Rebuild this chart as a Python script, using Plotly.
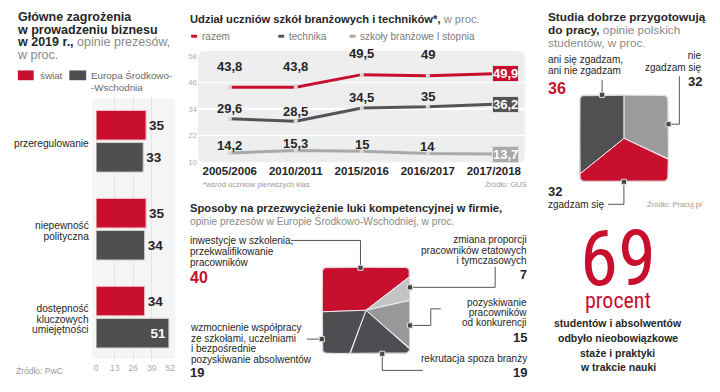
import numpy as np
import plotly.graph_objects as go

W, H = 720, 392
FONT = "Liberation Sans, Arial, sans-serif"
NARROW = "Roboto Condensed, Liberation Sans Narrow, DejaVu Sans Condensed, sans-serif"
RED = "#c8102e"
INK = "#262626"
GREY_TXT = "#8a8a8a"
DARK = "#4e4e52"
MID = "#98989a"
LIGHT = "#c4c4c6"

# ---------------- data ----------------
threat_categories = ["przeregulowanie", "niepewność\npolityczna", "dostępność\nkluczowych\numiejętności"]
threat_world = [35, 35, 34]
threat_cee = [33, 34, 51]
threat_ticks = [0, 13, 26, 39, 52]

years = ["2005/2006", "2010/2011", "2015/2016", "2016/2017", "2017/2018"]
share_total = [43.8, 43.8, 49.5, 49, 49.9]
share_technical = [29.6, 28.5, 34.5, 35, 36.2]
share_vocational = [14.2, 15.3, 15, 14, 13.7]
share_ticks = [10, 22, 34, 46, 58]

gap_labels = ["inwestycje w szkolenia,\nprzekwalifikowanie\npracowników",
              "zmiana proporcji\npracowników etatowych\ni tymczasowych",
              "pozyskiwanie\npracowników\nod konkurencji",
              "rekrutacja spoza branży",
              "wzmocnienie współpracy\nze szkołami, uczelniami\ni bezpośrednie\npozyskiwanie absolwentów"]
gap_values = [40, 7, 15, 19, 19]

study_labels = ["nie\nzgadzam się", "zgadzam się", "ani się zgadzam,\nani nie zgadzam"]
study_values = [32, 32, 36]

internship_share = 69

# ---------------- helpers ----------------
def px(x):
    return x / W

def py(y):
    return 1 - y / H

annotations = []
shapes = []

def label(x, y, text, size=10, color=INK, anchor="left", family=FONT, **kw):
    annotations.append(dict(x=px(x), y=py(y), xref="paper", yref="paper", text=text,
                            showarrow=False, xanchor=anchor, yanchor="middle", align=anchor,
                            borderpad=0, font=dict(size=size, color=color, family=family), **kw))

def block(x, y_first, spacing, lines, size, color=INK, anchor="left", family=FONT, sizes=None):
    """Several lines in one text, with a tight line pitch (base size = pitch / 1.3)."""
    sizes = sizes or [size] * len(lines)
    text = "<br>".join(f"<span style='font-size:{s}px'>{ln}</span>" for ln, s in zip(lines, sizes))
    yc = y_first + spacing * (len(lines) - 1) / 2
    annotations.append(dict(x=px(x), y=py(yc), xref="paper", yref="paper", text=text,
                            showarrow=False, xanchor=anchor, yanchor="middle", align=anchor,
                            borderpad=0, font=dict(size=spacing / 1.3, color=color, family=family)))

def fmt(v):
    return f"{v:g}".replace(".", ",")

def seg(x0, y0, x1, y1, color="#555", width=1):
    shapes.append(dict(type="line", xref="paper", yref="paper", x0=px(x0), y0=py(y0),
                       x1=px(x1), y1=py(y1), line=dict(color=color, width=width)))

def dot(x, y, s=2.6):
    shapes.append(dict(type="rect", xref="paper", yref="paper", x0=px(x - s), x1=px(x + s),
                       y0=py(y - s), y1=py(y + s), fillcolor="#454545",
                       line=dict(color="#dddddd", width=1), layer="above"))

def rounded_rect(x0, y0, x1, y1, r, fill, layer="below", line=None):
    X0, X1, Y0, Y1 = px(x0), px(x1), py(y1), py(y0)
    rx, ry = r / W, r / H
    path = (f"M {X0+rx},{Y0} L {X1-rx},{Y0} Q {X1},{Y0} {X1},{Y0+ry} L {X1},{Y1-ry} "
            f"Q {X1},{Y1} {X1-rx},{Y1} L {X0+rx},{Y1} Q {X0},{Y1} {X0},{Y1-ry} "
            f"L {X0},{Y0+ry} Q {X0},{Y0} {X0+rx},{Y0} Z")
    shapes.append(dict(type="path", xref="paper", yref="paper", path=path, fillcolor=fill,
                       line=line or dict(width=0), layer=layer))

def boundary(theta, r=0.13):
    d = np.array([np.cos(theta), np.sin(theta)])
    p = d / np.max(np.abs(d))
    if abs(p[0]) > 1 - r and abs(p[1]) > 1 - r:
        c = np.sign(p) * (1 - r)
        b = d @ c
        t = b + np.sqrt(max(b * b - (c @ c - r * r), 0))
        p = t * d
    return p

def square_pie(fig, values, colors, start_deg, xa, ya):
    total = float(sum(values))
    a = start_deg
    for v, col in zip(values, colors):
        span = 360.0 * v / total
        angs = np.radians(np.linspace(a, a - span, max(int(span * 3), 3)))
        pts = np.array([boundary(t) for t in angs])
        xs = np.concatenate([[0], pts[:, 0], [0]])
        ys = np.concatenate([[0], pts[:, 1], [0]])
        fig.add_trace(go.Scatter(x=xs, y=ys, fill="toself", fillcolor=col, mode="lines",
                                 line=dict(color="rgba(245,245,245,0.9)", width=1),
                                 xaxis=xa, yaxis=ya, hoverinfo="skip", showlegend=False))
        a -= span
    ring = np.array([boundary(t) for t in np.radians(np.linspace(0, 360, 721))])
    fig.add_trace(go.Scatter(x=ring[:, 0], y=ring[:, 1], mode="lines",
                             line=dict(color="#e3d3d5", width=1.5), xaxis=xa, yaxis=ya,
                             hoverinfo="skip", showlegend=False))

fig = go.Figure()

# ---------------- panel 1: bars ----------------
rounded_rect(91, 97, 175, 363, 3, "#f5f5f5")
fig.add_trace(go.Bar(y=threat_categories, x=threat_world, orientation="h", name="świat",
                     marker=dict(color=RED, line=dict(color="#f0c0c6", width=1)),
                     text=[f"<b>{v}</b>" for v in threat_world], textposition="outside",
                     textfont=dict(size=13.5, color=INK, family=FONT), cliponaxis=False,
                     xaxis="x", yaxis="y", showlegend=False, hoverinfo="skip"))
fig.add_trace(go.Bar(y=threat_categories, x=threat_cee, orientation="h", name="Europa Środkowo-Wschodnia",
                     marker=dict(color="#4f4f51", line=dict(color="#d0d0d0", width=1)),
                     text=[f"<b>{v}</b>" for v in threat_cee],
                     textposition=["outside", "outside", "inside"], insidetextanchor="end",
                     textfont=dict(size=13.5, family=FONT),
                     outsidetextfont=dict(size=13.5, color=INK, family=FONT),
                     insidetextfont=dict(size=13.5, color="white", family=FONT), cliponaxis=False,
                     xaxis="x", yaxis="y", showlegend=False, hoverinfo="skip"))

CAT_PITCH = 10.5
for cat in threat_categories:
    lines = cat.split("\n")
    text = "<br>".join(f"<span style='font-size:10.2px'>{ln}</span>" for ln in lines)
    annotations.append(dict(x=px(89), xref="paper", y=cat, yref="y", text=text, showarrow=False,
                            xanchor="right", align="right", yanchor="middle", borderpad=0,
                            yshift=-2, font=dict(size=CAT_PITCH / 1.3, color=INK, family=FONT)))

block(14, 14, 12.7, ["<b>Główne zagrożenia</b>", "<b>w prowadzeniu biznesu</b>",
                     f"<b>w 2019 r.,</b> <span style='color:{GREY_TXT}'>opinie prezesów,</span>",
                     f"<span style='color:{GREY_TXT}'>w proc.</span>"], 12.5)
shapes.append(dict(type="rect", xref="paper", yref="paper", x0=px(16), x1=px(32), y0=py(78), y1=py(68),
                   fillcolor=RED, line=dict(width=0)))
shapes.append(dict(type="rect", xref="paper", yref="paper", x0=px(68), x1=px(85), y0=py(78), y1=py(68),
                   fillcolor="#4f4f51", line=dict(width=0)))
label(37, 73, "świat", 9.8, "#6a6a6a")
block(89, 73, 12, ["Europa Środkowo-", "-Wschodnia"], 9.8, "#6a6a6a")
label(13, 376, "Źródło: PwC", 8.5, "#9a9a9a")

# ---------------- panel 2: lines ----------------
rounded_rect(198, 48, 528, 162, 7, "#eeeeee")
series = [(share_total, RED, 21), (share_technical, "#555557", 10), (share_vocational, "#a9a9ab", 7)]
for vals, col, shift in series:
    fig.add_trace(go.Scatter(x=years, y=vals, mode="lines+markers",
                             line=dict(color=col, width=3),
                             marker=dict(symbol="square", size=4, color="#d8d8d8"),
                             xaxis="x2", yaxis="y2", showlegend=False, cliponaxis=False,
                             hoverinfo="skip"))
    for x, v in zip(years[:-1], vals[:-1]):
        annotations.append(dict(x=x, y=v, xref="x2", yref="y2", text=f"<b>{fmt(v)}</b>",
                                showarrow=False, yanchor="middle", yshift=shift, borderpad=0,
                                font=dict(size=13, color=INK, family=FONT)))
    annotations.append(dict(x=years[-1], y=vals[-1], xref="x2", yref="y2",
                            text=f"<b>{fmt(vals[-1])}</b>", showarrow=False, xanchor="left",
                            yanchor="middle", xshift=-2, bgcolor=col, borderpad=0,
                            bordercolor="#e0e0e0", borderwidth=1,
                            font=dict(size=13, color="white", family=FONT)))

label(189, 15, f"<b>Udział uczniów szkół branżowych i techników*,</b> <span style='color:{GREY_TXT}'>w proc.</span>", 11.2)
for lx, col, txt in [(191, RED, "razem"), (279, "#555557", "technika"), (351, "#a9a9ab", "szkoły branżowe I stopnia")]:
    seg(lx, 33, lx + 6, 33, col, 3)
    label(lx + 10, 33, txt, 10, "#7a7a7a")
label(202, 185, "*wśród uczniów pierwszych klas", 7.5, "#9a9a9a")
label(531, 185, "Źródło: GUS", 7.5, "#9a9a9a", anchor="right")

# ---------------- panel 3: competency square pie ----------------
square_pie(fig, gap_values, [RED, LIGHT, MID, DARK, DARK], 182, "x3", "y3")
label(189, 209, "<b>Sposoby na przezwyciężenie luki kompetencyjnej w firmie,</b>", 11.2)
label(189, 222, "opinie prezesów w Europie Środkowo-Wschodniej, w proc.", 10.2, GREY_TXT)

block(189, 242, 11, gap_labels[0].split("\n"), 10)
label(189, 280, f"<b>{gap_values[0]}</b>", 16, RED)
block(531, 241, 10.5, gap_labels[1].split("\n"), 10, anchor="right")
label(531, 277, f"<b>{gap_values[1]}</b>", 12.5, anchor="right")
block(531, 306, 10, gap_labels[2].split("\n"), 10, anchor="right")
label(531, 341, f"<b>{gap_values[2]}</b>", 13, anchor="right")
label(531, 363, gap_labels[3], 10, anchor="right")
label(531, 377, f"<b>{gap_values[3]}</b>", 13, anchor="right")
block(189, 332, 10.5, gap_labels[4].split("\n"), 10)
label(189, 377, f"<b>{gap_values[4]}</b>", 13)

# leaders
seg(292, 242, 362, 242); seg(362, 242, 362, 270); dot(362, 270)
seg(412, 290, 498, 290); seg(498, 290, 498, 269); dot(412, 290)
seg(412, 329, 433, 329); seg(433, 329, 433, 312); seg(433, 312, 443, 312); dot(412, 329)
seg(308, 343, 323, 343); dot(323, 343)
seg(384, 358, 384, 375); seg(384, 375, 425, 375); dot(384, 358)

# ---------------- panel 4: students square pie ----------------
square_pie(fig, study_values, ["#9b9b9d", RED, "#505053"], 90, "x4", "y4")
block(550, 14, 13, ["<b>Studia dobrze przygotowują</b>",
                    f"<b>do pracy,</b> <span style='color:{GREY_TXT}'>opinie polskich</span>",
                    f"<span style='color:{GREY_TXT}'>studentów, w proc.</span>"], 11.8)
block(550, 57, 10.5, study_labels[2].split("\n"), 10)
label(550, 86, f"<b>{study_values[2]}</b>", 16, RED)
block(708, 53, 12, study_labels[0].split("\n"), 10, anchor="right")
label(708, 79, f"<b>{study_values[0]}</b>", 13, anchor="right")
label(550, 192, f"<b>{study_values[1]}</b>", 13)
label(550, 205, study_labels[1], 10)
label(708, 205, "Źródło: Pracuj.pl", 7.5, "#9a9a9a", anchor="right")
seg(606, 78, 606, 93); dot(606, 93)
seg(673, 123, 684, 123); seg(684, 123, 684, 74); dot(673, 123)
seg(612, 205, 628, 205); seg(628, 205, 628, 182); dot(628, 182)

# ---------------- panel 5: big number ----------------
annotations.append(dict(x=px(622), y=py(266), xref="paper", yref="paper",
                        text=f"<span style='font-size:77px'>{internship_share}</span><br>"
                             f"<span style='font-size:22px'>procent</span>",
                        showarrow=False, xanchor="center", yanchor="middle", align="center",
                        borderpad=0, font=dict(size=23 / 1.3, color=RED, family=NARROW)))
for i, t in enumerate(["studentów i absolwentów", "odbyło nieobowiązkowe", "staże i praktyki", "w trakcie nauki"]):
    label(622, 327 + 15 * i, f"<b>{t}</b>", 10.5, anchor="center")

# ---------------- layout ----------------
hidden = dict(visible=False, range=[-1, 1], fixedrange=True)
fig.update_layout(
    width=W, height=H, margin=dict(l=0, r=0, t=0, b=0),
    paper_bgcolor="white", plot_bgcolor="rgba(0,0,0,0)",
    font=dict(family=FONT, color=INK), hovermode=False,
    barmode="group", bargap=0.27, bargroupgap=0.08,
    xaxis=dict(domain=[px(95), px(170)], range=[0, 52], tickvals=threat_ticks,
               showgrid=True, gridcolor="#e4e4e4", gridwidth=1, zeroline=False, showline=False,
               tickfont=dict(size=8.5, color="#a8a8a8"), ticks="", anchor="y"),
    yaxis=dict(domain=[py(365.5), py(95.5)], categoryorder="array", categoryarray=threat_categories,
               autorange="reversed", showticklabels=False, showgrid=False, zeroline=False,
               anchor="x"),
    xaxis2=dict(domain=[px(198), px(528)], range=[-0.48, 4.47], type="category",
                showgrid=False, zeroline=False, ticks="",
                tickfont=dict(size=11.5, color=INK, family=FONT, weight="bold"), anchor="y2"),
    yaxis2=dict(domain=[py(162), py(53)], range=[10, 58], tickvals=share_ticks,
                showgrid=True, gridcolor="#ffffff", gridwidth=1.5, zeroline=False,
                tickfont=dict(size=8, color="#b0b0b0"), anchor="x2"),
    xaxis3=dict(domain=[px(323), px(412)], anchor="y3", **hidden),
    yaxis3=dict(domain=[py(358), py(269)], anchor="x3", **hidden),
    xaxis4=dict(domain=[px(583), px(673)], anchor="y4", **hidden),
    yaxis4=dict(domain=[py(182), py(93)], anchor="x4", **hidden),
    annotations=annotations, shapes=shapes,
)

fig.write_html("out.html", config={"displayModeBar": False, "staticPlot": True},
               post_script="document.body.style.margin='0';document.body.style.overflow='hidden';")
